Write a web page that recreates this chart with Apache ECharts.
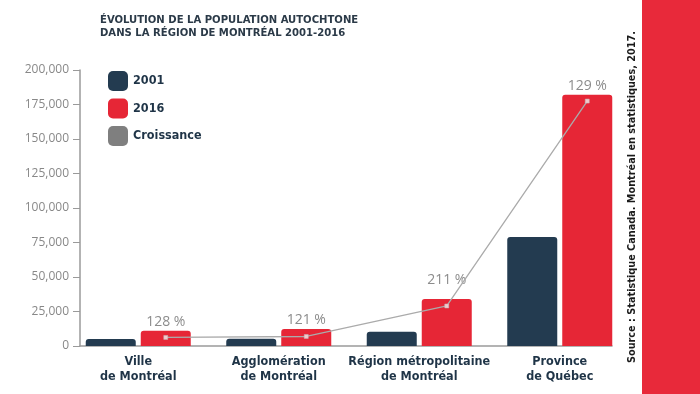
<!DOCTYPE html>
<html><head><meta charset="utf-8">
<script src="https://cdn.jsdelivr.net/npm/echarts@6/dist/echarts.min.js"></script>
<style>html,body{margin:0;padding:0;background:#fff}#c{width:700px;height:394px}</style>
</head><body><div id="c"></div>
<script>
const categories = ['Ville\nde Montréal', 'Agglomération\nde Montréal', 'Région métropolitaine\nde Montréal', 'Province\nde Québec'];
const pop2001 = [5000, 5200, 10400, 79000];
const pop2016 = [11000, 12300, 34000, 182000];
const croissanceLine = [6200, 6900, 29000, 177500];
const croissanceLabels = ['128 %', '121 %', '211 %', '129 %'];
const yTicks = [0, 25000, 50000, 75000, 100000, 125000, 150000, 175000, 200000];

const NAVY = '#233b50', RED = '#e62636', GREY = '#ababab';
const FONT = '"Open Sans", sans-serif';
const NARROW = '"DejaVu Sans Condensed", Roboto, sans-serif';
const chart = echarts.init(document.getElementById('c'), null, {renderer: 'canvas'});
const grids = [
  {left: 68, right: 70, top: 70, bottom: 48},
  {left: 95.5, right: 42.5, top: 70, bottom: 48},
  {left: 80, right: 88, top: 70, bottom: 48}
];
const yBase = {type: 'value', min: yTicks[0], max: yTicks[yTicks.length - 1], interval: yTicks[1] - yTicks[0]};
chart.setOption({
  animation: false,
  textStyle: {fontFamily: FONT},
  title: {
    text: 'ÉVOLUTION DE LA POPULATION AUTOCHTONE\nDANS LA RÉGION DE MONTRÉAL 2001-2016',
    left: 95, top: 9,
    textStyle: {fontFamily: NARROW, fontSize: 11.2, fontWeight: 'bold', color: '#2b3a48', lineHeight: 13}
  },
  legend: {
    orient: 'vertical', left: 108, top: 71, padding: 0, itemWidth: 20, itemHeight: 20, itemGap: 7.5,
    icon: 'roundRect',
    textStyle: {fontFamily: NARROW, fontSize: 12.5, fontWeight: 'bold', color: '#1f3447'},
    data: [{name: '2001'}, {name: '2016'},
      {name: 'Croissance', icon: 'roundRect', itemStyle: {color: '#7f7f7f', borderWidth: 0}, lineStyle: {width: 0, opacity: 0}}]
  },
  grid: grids,
  xAxis: [
    {type: 'category', gridIndex: 0, data: categories, axisLine: {show: false}, axisTick: {show: false},
      axisLabel: {interval: 0, margin: 8, align: 'center', fontFamily: NARROW, fontSize: 12.5, fontWeight: 'bold', color: '#1f3447', lineHeight: 15}},
    {type: 'category', gridIndex: 1, data: categories, show: false},
    {type: 'category', gridIndex: 2, data: categories, axisLine: {lineStyle: {color: '#9a9a9a', width: 1.5}},
      axisTick: {show: false}, axisLabel: {show: false}}
  ],
  yAxis: [
    Object.assign({gridIndex: 0, show: false}, yBase),
    Object.assign({gridIndex: 1, show: false}, yBase),
    Object.assign({gridIndex: 2, splitLine: {show: false},
      axisLine: {show: true, lineStyle: {color: '#9a9a9a', width: 1.5}},
      axisTick: {show: true, length: 7, lineStyle: {color: '#9a9a9a'}},
      axisLabel: {margin: 11, fontFamily: FONT, fontSize: 12, color: '#888888',
        formatter: v => v.toLocaleString('en-US')}}, yBase)
  ],
  series: [
    {name: '2001', type: 'bar', xAxisIndex: 0, yAxisIndex: 0, data: pop2001, barWidth: 50, barGap: '10%',
      itemStyle: {color: NAVY, borderRadius: [3, 3, 0, 0]}},
    {name: '2016', type: 'bar', xAxisIndex: 0, yAxisIndex: 0, barWidth: 50, barGap: '10%',
      itemStyle: {color: RED, borderRadius: [3, 3, 0, 0]},
      data: pop2016.map((v, i) => ({value: v, label: {distance: i === 2 ? 12 : 2}})),
      label: {show: true, position: 'top', fontFamily: FONT, fontSize: 14, color: '#8c8c8c',
        formatter: p => croissanceLabels[p.dataIndex]}},
    {name: 'Croissance', type: 'line', xAxisIndex: 1, yAxisIndex: 1, data: croissanceLine,
      symbol: 'rect', symbolSize: 4, lineStyle: {color: GREY, width: 1.3},
      itemStyle: {color: '#f3c9cc', borderColor: '#bbbbbb', borderWidth: 0.5}}
  ],
  graphic: [
    {type: 'rect', shape: {x: 642, y: 0, width: 58, height: 394}, style: {fill: '#e8293a'}},
    {type: 'text', x: 632, y: 197, rotation: Math.PI / 2,
      style: {text: 'Source : Statistique Canada. Montréal en statistiques, 2017.', fill: '#1a1a1a',
        font: 'bold 10.8px "DejaVu Sans Condensed", Roboto, sans-serif', textAlign: 'center', textVerticalAlign: 'middle'}}
  ]
});
</script></body></html>
